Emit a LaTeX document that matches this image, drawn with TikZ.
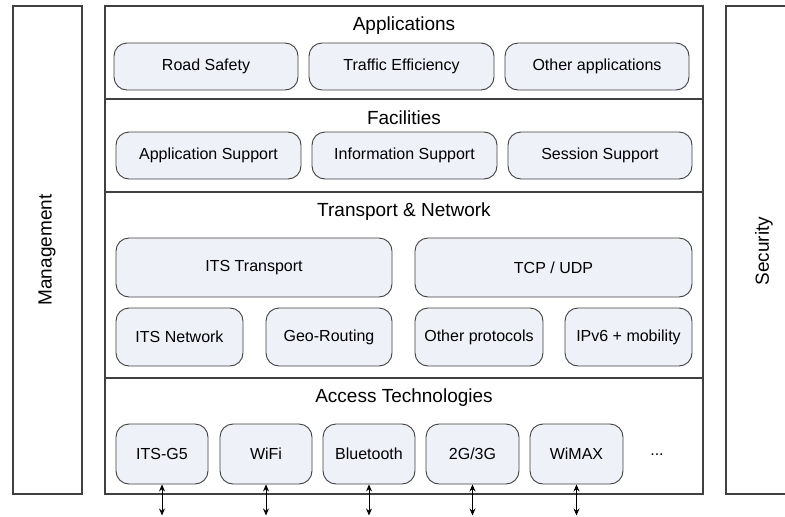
\documentclass[tikz,border=0pt]{standalone}
\usepackage{fontspec}
\setmainfont{Liberation Sans}
\usetikzlibrary{arrows.meta}
\definecolor{boxfill}{HTML}{EEF1F7}
\definecolor{boxline}{HTML}{404040}
\tikzset{
  frame/.style={draw=boxline, line width=1.1pt},
  layertitle/.style={font=\fontsize{19}{21}\selectfont, inner sep=0pt},
  block/.style={draw=boxline, line width=0.9pt, fill=boxfill, rounded corners=13pt, font=\fontsize{16}{18}\selectfont, inner sep=0pt},
  link/.style={line width=0.9pt, {Stealth[length=7pt,width=6pt]}-{Stealth[length=7pt,width=6pt]}}
}
\newcommand{\blk}[6]{\node[block, minimum width=#4-#2, minimum height=#5-#3] (#1) at ({(#2+#4)/2},{(#3+#5)/2}) {#6};}
\begin{document}
\begin{tikzpicture}[x=1pt,y=-1pt]
\useasboundingbox (0,0) rectangle (785,517);
\clip (0,0) rectangle (785,517);

% side columns
\draw[frame] (13,6) rectangle (82,494);
\node[layertitle, rotate=90] (mgmt) at (47,250) {Management};
\draw[frame] (726,6) rectangle (800,494);
\node[layertitle, rotate=90] (sec) at (764,251) {Security};

% protocol stack frame and layer dividers
\draw[frame] (105,6) rectangle (703,494);
\draw[frame] (105,99) -- (703,99);
\draw[frame] (105,192) -- (703,192);
\draw[frame] (105,378) -- (703,378);

% layer titles
\node[layertitle] (tapp) at (404,26) {Applications};
\node[layertitle] (tfac) at (404,118) {Facilities};
\node[layertitle] (tnet) at (404,212) {Transport \& Network};
\node[layertitle] (tacc) at (404,398) {Access Technologies};

% applications
\blk{rs}{114}{43}{298}{90}{Road Safety}
\blk{te}{309}{43}{494}{90}{Traffic Efficiency}
\blk{oa}{505}{43}{689}{90}{Other applications}

% facilities
\blk{as}{116}{132}{301}{179}{Application Support}
\blk{is}{312}{132}{497}{179}{Information Support}
\blk{ss}{508}{132}{692}{179}{Session Support}

% transport & network
\blk{itst}{116}{238}{392}{297}{ITS Transport}
\blk{tcp}{415}{238}{692}{297}{TCP / UDP}
\blk{itsn}{116}{308}{243}{366}{ITS Network}
\blk{geo}{266}{308}{392}{366}{Geo-Routing}
\blk{op}{415}{308}{543}{366}{Other protocols}
\blk{ipv6}{565}{308}{692}{366}{IPv6 + mobility}

% access technologies
\blk{g5}{116}{424}{208}{484}{ITS-G5}
\blk{wifi}{220}{424}{312}{484}{WiFi}
\blk{bt}{323}{424}{415}{484}{Bluetooth}
\blk{cell}{426}{424}{519}{484}{2G/3G}
\blk{wimax}{530}{424}{623}{484}{WiMAX}
\node[font=\fontsize{16}{18}\selectfont, inner sep=0pt] (more) at (657,455) {...};

% air interfaces below each access technology
\foreach \n in {g5,wifi,bt,cell,wimax}{
  \coordinate (\n-air) at ([yshift=-31pt]\n.south);
  \draw[link] (\n.south) -- (\n-air);
}
\end{tikzpicture}
\end{document}
